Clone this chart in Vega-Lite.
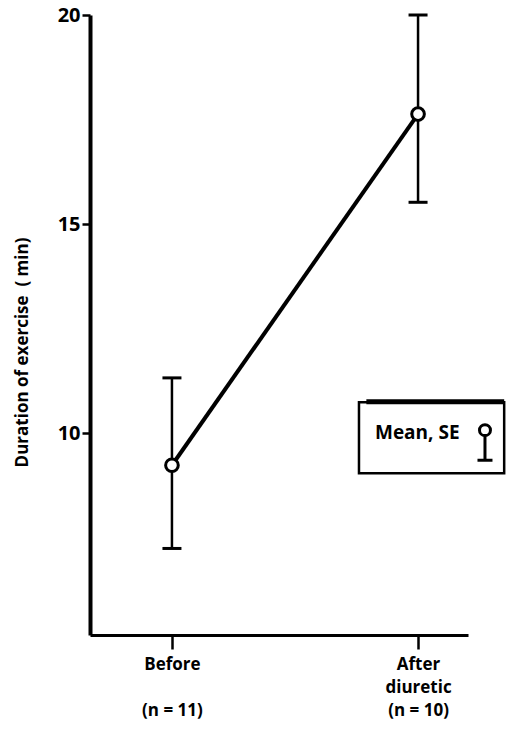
{
  "$schema": "https://vega.github.io/schema/vega-lite/v6.json",
  "autosize": "none",
  "width": 378,
  "height": 620,
  "padding": {"left": 90, "top": 15, "right": 38, "bottom": 100},
  "background": "white",
  "config": {
    "view": {"stroke": null},
    "font": "Open Sans",
    "axis": {"grid": false, "domainColor": "black", "tickColor": "black", "labelColor": "black", "titleColor": "black"}
  },
  "datasets": {
    "main": [
      {"group": "Before", "x": 0, "mean": 9.23, "lo": 7.24, "hi": 11.32},
      {"group": "After diuretic", "x": 1, "mean": 17.63, "lo": 15.52, "hi": 20.0}
    ],
    "box": [
      {"x1": 0.76, "x2": 1.35, "y1": 9.04, "y2": 10.74}
    ],
    "boxtop": [
      {"x1": 0.79, "x2": 1.35, "y": 10.75}
    ],
    "legtext": [
      {"x": 0.825, "y": 10.0, "label": "Mean, SE"}
    ],
    "legsym": [
      {"x": 1.272, "mean": 10.07, "lo": 9.35, "hi": 9.93}
    ]
  },
  "layer": [
    {
      "data": {"name": "main"},
      "mark": {"type": "line", "color": "black", "strokeWidth": 4},
      "encoding": {
        "x": {
          "field": "x", "type": "quantitative",
          "scale": {"domain": [-0.333, 1.203], "nice": false, "zero": false},
          "axis": {
            "title": null, "values": [0, 1], "domainWidth": 3, "tickWidth": 2.5, "tickSize": 14,
            "labelExpr": "datum.value == 0 ? ['Before', '\u200b', '(n = 11)'] : ['After', 'diuretic', '(n = 10)']",
            "labelFontSize": 17, "labelFontWeight": "bold", "labelLineHeight": 23, "labelPadding": 7,
            "labelBaseline": "top", "labelFlush": false
          }
        },
        "y": {
          "field": "mean", "type": "quantitative",
          "scale": {"domain": [5.17, 20], "nice": false, "zero": false},
          "axis": {
            "title": "Duration of exercise \u00a0( min)", "values": [10, 15, 20],
            "domainWidth": 4, "tickWidth": 2.5, "tickSize": 8, "labelPadding": 2,
            "labelFontSize": 20, "labelFontWeight": "bold",
            "titleFontSize": 17, "titleFontWeight": "bold", "titleX": -68, "titleY": 337,
            "titleAngle": -90, "titleBaseline": "middle", "titleAlign": "center"
          }
        }
      }
    },
    {
      "data": {"name": "main"},
      "mark": {"type": "rule", "color": "black", "strokeWidth": 2.5},
      "encoding": {
        "x": {"field": "x", "type": "quantitative"},
        "y": {"field": "lo", "type": "quantitative"},
        "y2": {"field": "hi"}
      }
    },
    {
      "data": {"name": "main"},
      "mark": {"type": "tick", "orient": "horizontal", "color": "black", "thickness": 3, "size": 19, "opacity": 1},
      "encoding": {
        "x": {"field": "x", "type": "quantitative"},
        "y": {"field": "lo", "type": "quantitative"}
      }
    },
    {
      "data": {"name": "main"},
      "mark": {"type": "tick", "orient": "horizontal", "color": "black", "thickness": 3, "size": 19, "opacity": 1},
      "encoding": {
        "x": {"field": "x", "type": "quantitative"},
        "y": {"field": "hi", "type": "quantitative"}
      }
    },
    {
      "data": {"name": "main"},
      "mark": {"type": "point", "shape": "circle", "filled": false, "fill": "white", "fillOpacity": 1, "stroke": "black", "strokeWidth": 3, "size": 160, "opacity": 1},
      "encoding": {
        "x": {"field": "x", "type": "quantitative"},
        "y": {"field": "mean", "type": "quantitative"}
      }
    },
    {
      "data": {"name": "box"},
      "mark": {"type": "rect", "fill": "white", "stroke": "black", "strokeWidth": 2.5},
      "encoding": {
        "x": {"field": "x1", "type": "quantitative"},
        "x2": {"field": "x2"},
        "y": {"field": "y1", "type": "quantitative"},
        "y2": {"field": "y2"}
      }
    },
    {
      "data": {"name": "boxtop"},
      "mark": {"type": "rule", "color": "black", "strokeWidth": 5},
      "encoding": {
        "x": {"field": "x1", "type": "quantitative"},
        "x2": {"field": "x2"},
        "y": {"field": "y", "type": "quantitative"}
      }
    },
    {
      "data": {"name": "legtext"},
      "mark": {"type": "text", "align": "left", "baseline": "middle", "fontSize": 19, "fontWeight": "bold", "color": "black"},
      "encoding": {
        "x": {"field": "x", "type": "quantitative"},
        "y": {"field": "y", "type": "quantitative"},
        "text": {"field": "label"}
      }
    },
    {
      "data": {"name": "legsym"},
      "mark": {"type": "rule", "color": "black", "strokeWidth": 3},
      "encoding": {
        "x": {"field": "x", "type": "quantitative"},
        "y": {"field": "lo", "type": "quantitative"},
        "y2": {"field": "hi"}
      }
    },
    {
      "data": {"name": "legsym"},
      "mark": {"type": "tick", "orient": "horizontal", "color": "black", "thickness": 3, "size": 15, "opacity": 1},
      "encoding": {
        "x": {"field": "x", "type": "quantitative"},
        "y": {"field": "lo", "type": "quantitative"}
      }
    },
    {
      "data": {"name": "legsym"},
      "mark": {"type": "point", "shape": "circle", "filled": false, "fill": "white", "fillOpacity": 1, "stroke": "black", "strokeWidth": 3, "size": 120, "opacity": 1},
      "encoding": {
        "x": {"field": "x", "type": "quantitative"},
        "y": {"field": "mean", "type": "quantitative"}
      }
    }
  ]
}
